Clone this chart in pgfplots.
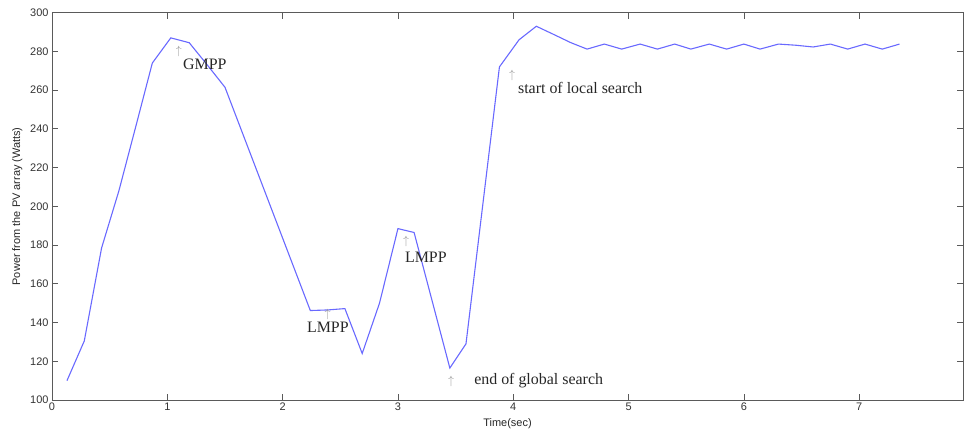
\documentclass[border=0pt]{standalone}
\usepackage{pgfplots}
\pgfplotsset{compat=1.18}
\usepackage{fontspec}
\setmainfont{Liberation Sans}
\newfontfamily\annfont{Liberation Serif}
\definecolor{pvblue}{RGB}{105,105,255}
\definecolor{axgray}{RGB}{90,90,90}
\definecolor{arrgray}{RGB}{150,150,150}
\begin{document}
\begin{tikzpicture}
\begin{axis}[
  scale only axis,
  width=911bp, height=387.3bp,
  xmin=0, xmax=7.9, ymin=100, ymax=300,
  xtick={0,1,...,7}, ytick={100,120,...,300},
  tick align=inside, major tick length=6bp,
  axis line style={axgray, line width=0.8bp},
  tick style={axgray, line width=0.8bp},
  tick label style={font=\fontsize{11}{12}\selectfont, text=black!80},
  /pgf/number format/assume math mode=true,
  xticklabel style={yshift=1bp},
  xlabel={Time(sec)}, ylabel={Power from the PV array (Watts)},
  label style={font=\fontsize{11}{12}\selectfont, text=black!85},
  xlabel style={yshift=-1bp},
  ylabel style={yshift=1bp},
  clip=false,
  name=main,
]
\addplot[pvblue, line width=1.1bp] coordinates {
(0.13,110) (0.28,130.5) (0.43,178.5) (0.58,208) (0.73,242) (0.87,274)
(1.03,287) (1.19,284.5) (1.34,273.5) (1.50,261.5) (2.24,146.2) (2.39,146.5)
(2.54,147.2) (2.69,124) (2.84,150) (3.00,188.5) (3.14,186.5) (3.45,116.5)
(3.59,129) (3.88,272) (4.05,286) (4.20,293) (4.36,288.5) (4.50,284.5)
(4.64,281.2) (4.79,283.8) (4.94,281.2) (5.10,283.8) (5.25,281.2) (5.40,283.8)
(5.54,281.2) (5.70,283.8) (5.85,281.2) (6.00,283.8) (6.14,281.2) (6.30,283.8)
(6.45,283.2) (6.60,282.3) (6.75,283.8) (6.90,281.2) (7.05,283.8) (7.20,281.2)
(7.35,283.8)
};
% annotations
\node[text=arrgray, font=\fontsize{12}{12}\selectfont, inner sep=0] at (axis cs:1.10,279.7) {$\uparrow$};
\node[anchor=west, inner sep=0, font=\annfont\fontsize{16}{18}\selectfont, text=black!85] at (axis cs:1.135,273.5) {GMPP};
\node[text=arrgray, font=\fontsize{12}{12}\selectfont, inner sep=0] at (axis cs:2.39,144.4) {$\uparrow$};
\node[anchor=west, inner sep=0, font=\annfont\fontsize{16}{18}\selectfont, text=black!85] at (axis cs:2.21,137.7) {LMPP};
\node[text=arrgray, font=\fontsize{12}{12}\selectfont, inner sep=0] at (axis cs:3.07,182.1) {$\uparrow$};
\node[anchor=west, inner sep=0, font=\annfont\fontsize{16}{18}\selectfont, text=black!85] at (axis cs:3.06,173.8) {LMPP};
\node[text=arrgray, font=\fontsize{12}{12}\selectfont, inner sep=0] at (axis cs:3.46,109.8) {$\uparrow$};
\node[anchor=west, inner sep=0, font=\annfont\fontsize{16}{18}\selectfont, text=black!85] at (axis cs:3.66,109.8) {end of global search};
\node[text=arrgray, font=\fontsize{12}{12}\selectfont, inner sep=0] at (axis cs:3.99,267.8) {$\uparrow$};
\node[anchor=west, inner sep=0, font=\annfont\fontsize{16}{18}\selectfont, text=black!85] at (axis cs:4.04,261.1) {start of local search};
\end{axis}
\path[use as bounding box] ([xshift=-52bp,yshift=-32bp]main.south west) rectangle ([xshift=6bp,yshift=12.7bp]main.north east);
\end{tikzpicture}
\end{document}
